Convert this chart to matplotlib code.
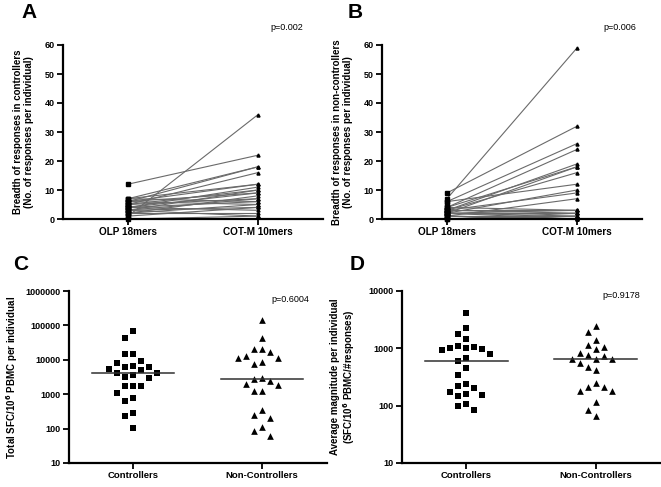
import matplotlib
matplotlib.use("Agg")
import matplotlib.pyplot as plt
import numpy as np
from matplotlib.ticker import FixedLocator, NullLocator, FuncFormatter

plt.rcParams['font.family'] = ['Liberation Sans', 'DejaVu Sans']

# ---- data -------------------------------------------------------------
pair_cats = ["OLP 18mers", "COT-M 10mers"]
group_cats = ["Controllers", "Non-Controllers"]

# A: breadth in controllers (OLP -> COT-M)
ctrl_olp = [12, 1, 7, 6, 5, 7, 6, 4, 5, 3, 6, 4, 2, 5, 3, 7, 4, 2, 6, 3, 1, 4, 2, 0, 3]
ctrl_cot = [22, 36, 18, 18, 16, 12, 12, 11, 10, 10, 9, 9, 8, 7, 7, 6, 6, 5, 5, 4, 4, 3, 2, 1, 1]

# B: breadth in non-controllers
nc_olp = [7, 9, 6, 4, 3, 4, 2, 3, 6, 2, 3, 1, 2, 4, 3, 2, 1, 0, 2, 1, 3, 0, 1, 2]
nc_cot = [59, 32, 26, 24, 19, 18, 18, 16, 12, 10, 9, 7, 3, 3, 2, 2, 1, 1, 0, 0, 3, 2, 0, 1]

# C: total SFC/10^6 PBMC per individual
total_ctrl = [67000, 44000, 14500, 14500, 9500, 8100, 6100, 5500, 5100, 6100, 6800,
              4200, 4100, 3600, 3200, 3000, 1740, 1740, 1740, 1120, 790, 630, 290, 240, 105]
total_nc = [141000, 44000, 20500, 17000, 20000, 11500, 13000, 11500, 7800, 8700, 2700,
            2400, 3000, 1900, 2000, 1240, 1240, 350, 210, 250, 110, 85, 63]

# D: average magnitude per individual
avg_ctrl = [4130, 2290, 1800, 1480, 1100, 1030, 920, 810, 960, 1030, 1050, 690, 600,
            450, 343, 220, 234, 200, 170, 155, 150, 162, 105, 98, 83]
avg_nc = [2410, 1930, 1410, 1160, 1050, 960, 770, 840, 725, 660, 660, 645, 565, 470,
          420, 250, 214, 183, 183, 214, 115, 85, 67]

p_texts = ["p=0.002", "p=0.006", "p=0.6004", "p=0.9178"]

W, H = 661, 487


def rect(left, right, top, bottom):
    return [left / W, 1 - bottom / H, (right - left) / W, (bottom - top) / H]


def style_axes(ax):
    for s in ["top", "right"]:
        ax.spines[s].set_visible(False)
    for s in ["left", "bottom"]:
        ax.spines[s].set_linewidth(1.6)
    ax.tick_params(axis="both", which="major", direction="out", length=4, width=1.3,
                   colors="black", labelsize=6.5, pad=2)


def swarm_x(ax, x0, values, step_px=8, size_px=9):
    """Simple column-based beeswarm offsets (GraphPad style)."""
    vals = np.asarray(values, dtype=float)
    ypix = ax.transData.transform(np.column_stack([np.full(len(vals), x0), vals]))[:, 1]
    ppu = ax.transData.transform((1, 1))[0] - ax.transData.transform((0, 1))[0]
    order = np.argsort(-vals, kind="stable")
    placed = []
    cols = np.zeros(len(vals))
    for i in order:
        for cand in [0, -1, 1, -2, 2, -3, 3, -4, 4, -5, 5]:
            if all(not (c == cand and abs(y - ypix[i]) < size_px) for c, y in placed):
                break
        placed.append((cand, ypix[i]))
        cols[i] = cand
    return x0 + cols * step_px / ppu


fig = plt.figure(figsize=(W / 100, H / 100), dpi=100)

# ---- A and B: paired line plots ---------------------------------------
pair_panels = [
    (rect(63, 323, 45, 219), ctrl_olp, ctrl_cot,
     "Breadth of responses in controllers\n(No. of responses per individual)", p_texts[0], 0.862),
    (rect(382, 642, 45, 219), nc_olp, nc_cot,
     "Breadth of responses in non-controllers\n(No. of responses per individual)", p_texts[1], 0.915),
]
for r, olp, cot, ylab, ptxt, px in pair_panels:
    ax = fig.add_axes(r)
    style_axes(ax)
    for a, b in zip(olp, cot):
        ax.plot([0, 1], [a, b], color="#6a6a6a", lw=0.8, zorder=2)
    ax.plot(np.zeros(len(olp)), olp, "s", color="black", ms=2.2, zorder=3, clip_on=False)
    ax.plot(np.ones(len(cot)), cot, "^", color="black", ms=2.2, zorder=3, clip_on=False)
    ax.set_xlim(-0.5, 1.5)
    ax.set_ylim(0, 60)
    ax.set_yticks(np.arange(0, 61, 10))
    ax.set_xticks([0, 1])
    ax.set_xticklabels(pair_cats, fontsize=7.2, fontweight="bold")
    for lab in ax.get_yticklabels():
        lab.set_fontweight("bold")
    ax.set_ylabel(ylab, fontsize=7, fontweight="bold", va="center", linespacing=1.1)
    ax.yaxis.set_label_coords(-0.152, 0.5)
    ax.text(px, 1.1, ptxt, transform=ax.transAxes, ha="center", va="center", fontsize=6.5)

# ---- C and D: log-scale scatter dot plots ---------------------------
dot_panels = [
    (rect(68.5, 326.5, 291, 463), total_ctrl, total_nc, (10, 1e6),
     "Total SFC/10$^\\mathbf{6}$ PBMC per individual", p_texts[2], (0.858, 0.948), -0.219),
    (rect(402, 660, 291, 463), avg_ctrl, avg_nc, (10, 1e4),
     "Average magnitude per individual\n(SFC/10$^\\mathbf{6}$ PBMC/#responses)", p_texts[3], (0.849, 0.971), -0.225),
]
for r, g1, g2, ylim, ylab, ptxt, ppos, labx in dot_panels:
    ax = fig.add_axes(r)
    style_axes(ax)
    ax.set_yscale("log")
    ax.set_xlim(-0.5, 1.5)
    ax.set_ylim(*ylim)
    decades = 10.0 ** np.arange(np.log10(ylim[0]), np.log10(ylim[1]) + 1)
    ax.yaxis.set_major_locator(FixedLocator(decades))
    ax.yaxis.set_minor_locator(NullLocator())
    ax.yaxis.set_major_formatter(FuncFormatter(lambda v, _: f"{int(round(v))}"))
    ax.set_xticks([0, 1])
    ax.set_xticklabels(group_cats, fontsize=6.8, fontweight="bold")
    for lab in ax.get_yticklabels():
        lab.set_fontweight("bold")

    x1 = swarm_x(ax, 0, g1)
    x2 = swarm_x(ax, 1, g2)
    ax.scatter(x1, g1, marker="s", s=20, color="black", lw=0, zorder=3)
    ax.scatter(x2, g2, marker="^", s=23, color="black", lw=0, zorder=3)
    for xc, g in [(0, g1), (1, g2)]:
        med = np.median(g)
        ax.plot([xc - 0.32, xc + 0.32], [med, med], color="#303030", lw=1.1, zorder=4)

    ax.set_ylabel(ylab, fontsize=7, fontweight="bold", va="center", linespacing=1.1)
    ax.yaxis.set_label_coords(labx, 0.5)
    ax.text(ppos[0], ppos[1], ptxt, transform=ax.transAxes, ha="center", va="center", fontsize=6.5)

# ---- panel letters ---------------------------------------------------
for letter, (x, y) in zip("ABCD", [(29, 13), (355, 13), (21, 265), (357, 265)]):
    fig.text(x / W, 1 - y / H, letter, fontsize=15, fontweight="bold", ha="center", va="center")

fig.savefig("out.png", dpi=100)
